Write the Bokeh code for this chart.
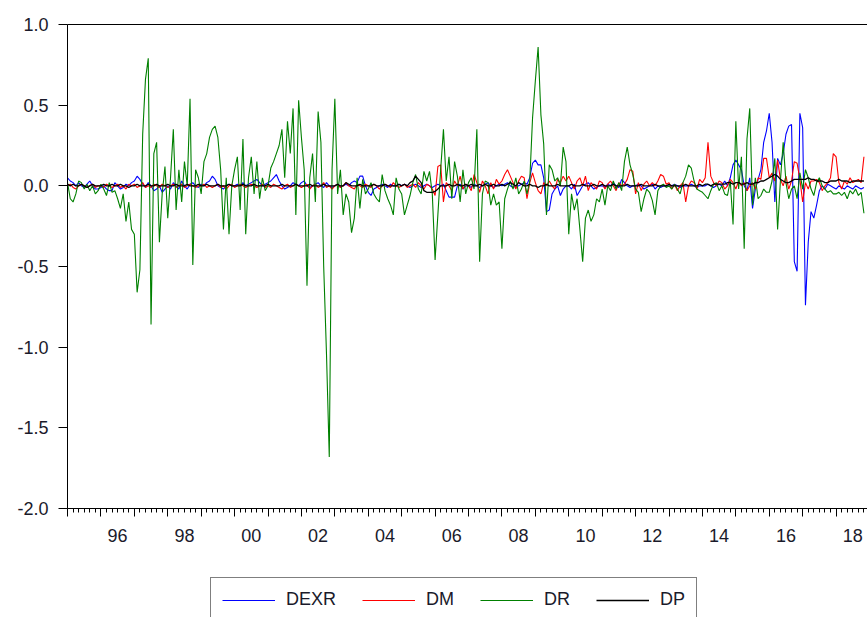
from bokeh.plotting import figure
from bokeh.layouts import column
from bokeh.models import (Range1d, FixedTicker, LinearAxis, Legend, LegendItem,
                          CustomJSTickFormatter, NumeralTickFormatter, ColumnDataSource)
from bokeh.embed import file_html
from bokeh.resources import INLINE

# ---------------- data (monthly, 1995M01 onward) ----------------
start_year = 1995

dexr = [
    0.05, 0.03, 0.02, 0.00, 0.02, 0.00, -0.01, 0.01, 0.03, 0.00, -0.02, -0.02,
    -0.01, 0.00, -0.02, -0.03, -0.03, 0.02, 0.00, -0.02, -0.01, 0.01, 0.00, 0.02,
    0.03, 0.06, 0.04, 0.01, -0.01, 0.02, 0.00, -0.03, -0.02, 0.00, -0.04, -0.02,
    0.00, -0.02, 0.02, 0.00, -0.02, 0.03, 0.00, -0.02, 0.01, 0.02, 0.00, -0.01,
    0.01, 0.00, 0.02, 0.03, 0.06, 0.04, 0.00, -0.01, -0.02, 0.00, 0.01, 0.00,
    0.00, 0.01, 0.00, 0.02, 0.00, 0.01, 0.02, 0.03, 0.04, 0.02, 0.00, 0.01,
    0.02, 0.03, 0.05, 0.07, 0.03, 0.00, -0.02, -0.01, 0.00, 0.02, 0.01, 0.00,
    0.02, 0.03, 0.00, -0.01, 0.00, 0.01, 0.02, 0.00, -0.01, 0.02, 0.00, -0.01,
    0.00, 0.01, -0.01, 0.00, 0.01, 0.00, 0.02, 0.03, 0.02, 0.06, 0.06, 0.00,
    -0.04, -0.06, -0.02, -0.01, 0.00, 0.01, 0.00, -0.01, 0.01, 0.00, 0.00, 0.01,
    0.00, 0.01, 0.00, -0.01, 0.00, 0.01, 0.00, -0.01, 0.00, 0.01, 0.00, -0.01,
    0.00, 0.01, 0.00, 0.01, -0.03, -0.07, -0.07, -0.07, 0.00, 0.01, -0.02, 0.00,
    0.00, -0.01, 0.01, 0.00, -0.01, 0.00, 0.01, 0.02, 0.00, -0.01, 0.00, 0.01,
    0.00, 0.01, 0.02, 0.00, -0.01, 0.00, 0.00, 0.01, 0.02, 0.01, 0.05, 0.14,
    0.16, 0.13, 0.13, 0.05, -0.16, -0.15, -0.05, -0.02, 0.00, -0.06, -0.02, 0.00,
    0.00, -0.02, 0.01, -0.06, -0.03, 0.00, 0.01, 0.02, 0.00, -0.02, -0.01, 0.00,
    0.00, -0.01, 0.01, 0.00, 0.02, 0.00, -0.01, 0.04, 0.02, 0.00, -0.01, 0.00,
    0.00, 0.01, 0.00, -0.02, -0.01, 0.00, 0.01, -0.02, 0.00, -0.01, 0.00, 0.00,
    0.00, 0.00, 0.01, 0.00, -0.01, 0.00, 0.00, 0.00, 0.01, 0.00, -0.01, 0.00,
    0.00, 0.00, 0.01, 0.00, -0.01, 0.00, 0.01, 0.00, 0.03, 0.00, 0.05, 0.13,
    0.16, 0.13, 0.10, 0.00, -0.03, 0.05, -0.14, -0.02, 0.04, 0.10, 0.27, 0.34,
    0.45, 0.27, -0.10, 0.17, 0.13, 0.20, 0.32, 0.37, 0.38, -0.47, -0.53, 0.45,
    0.36, -0.74, -0.35, -0.16, -0.20, -0.12, -0.03, 0.00, -0.02, 0.01, 0.00, -0.01,
    -0.02, 0.00, -0.01, -0.02, 0.00, -0.01, -0.02, 0.00, -0.01, -0.02, -0.01,
]

dm = [
    0.00, 0.01, -0.01, -0.02, 0.00, 0.01, 0.00, -0.01, 0.00, 0.01, -0.01, 0.00,
    0.00, -0.01, 0.01, 0.00, -0.01, 0.00, 0.01, -0.01, 0.00, -0.02, 0.01, 0.00,
    0.01, -0.01, 0.00, 0.02, -0.01, 0.00, -0.01, 0.01, 0.00, -0.01, 0.01, 0.00,
    -0.01, 0.00, 0.01, -0.01, 0.00, 0.01, -0.01, 0.00, 0.01, 0.00, -0.01, 0.00,
    0.00, 0.01, -0.01, 0.00, -0.01, 0.00, 0.01, -0.01, 0.00, -0.02, 0.00, 0.01,
    -0.01, 0.00, 0.01, 0.00, -0.01, 0.00, 0.01, 0.00, -0.01, 0.00, 0.01, -0.01,
    0.00, -0.01, 0.01, 0.00, -0.01, -0.02, 0.00, 0.01, -0.01, 0.00, 0.01, 0.00,
    -0.01, 0.00, 0.01, -0.02, 0.00, 0.01, -0.01, 0.00, 0.02, -0.01, 0.00, -0.02,
    0.00, 0.01, -0.01, 0.00, 0.02, 0.00, -0.01, -0.02, 0.01, 0.00, -0.01, 0.01,
    0.00, -0.01, 0.01, 0.00, -0.02, 0.00, 0.01, 0.00, -0.01, 0.02, 0.00, -0.01,
    0.00, 0.01, -0.01, 0.00, 0.01, -0.01, 0.02, 0.00, -0.02, 0.01, 0.00, -0.02,
    -0.06, 0.12, 0.13, -0.10, 0.02, 0.00, -0.03, 0.03, 0.00, 0.06, -0.02, 0.01,
    0.00, -0.03, 0.07, 0.02, -0.04, 0.03, 0.00, -0.05, 0.02, -0.02, 0.04, 0.01,
    0.03, 0.07, 0.10, 0.06, 0.02, -0.02, 0.03, 0.06, 0.05, -0.08, 0.02, 0.08,
    0.02, -0.03, -0.05, 0.02, 0.00, 0.03, 0.00, -0.02, 0.04, 0.02, 0.06, 0.03,
    0.06, 0.02, -0.02, 0.03, 0.05, 0.00, 0.06, -0.03, 0.02, 0.00, -0.02, 0.03,
    0.02, -0.02, 0.01, 0.03, 0.00, -0.03, 0.02, 0.00, 0.01, 0.04, 0.10, 0.09,
    -0.05, 0.02, -0.03, 0.01, 0.03, 0.00, 0.02, 0.00, 0.03, 0.07, 0.06, 0.01,
    0.02, -0.02, 0.01, -0.03, 0.00, 0.02, -0.10, 0.00, 0.03, 0.02, -0.02, 0.04,
    0.02, 0.05, 0.27, 0.06, 0.02, 0.00, 0.03, 0.02, -0.02, 0.00, 0.04, 0.02,
    -0.02, 0.03, 0.00, 0.02, -0.03, 0.00, 0.02, -0.02, 0.05, 0.04, 0.17, 0.17,
    0.05, 0.08, 0.03, 0.16, 0.04, 0.00, 0.06, -0.02, 0.03, 0.15, 0.14, 0.04,
    -0.10, 0.02, -0.02, 0.03, 0.03, 0.04, 0.02, -0.03, 0.00, 0.02, 0.05, 0.20,
    0.18, 0.02, -0.02, 0.03, 0.01, 0.05, 0.02, 0.03, 0.04, 0.02, 0.18,
]

dr = [
    0.02, -0.08, -0.10, -0.05, 0.03, 0.02, -0.02, 0.01, -0.03, 0.00, -0.05, -0.03,
    0.01, -0.02, -0.06, 0.02, -0.04, -0.03, -0.08, -0.14, -0.05, -0.22, -0.10, -0.27,
    -0.30, -0.66, -0.52, 0.32, 0.66, 0.79, -0.86, 0.20, 0.27, -0.35, -0.05, 0.12,
    -0.20, 0.05, 0.35, -0.15, 0.10, -0.10, 0.15, 0.00, 0.54, -0.49, 0.10, 0.05,
    -0.05, 0.15, 0.20, 0.30, 0.35, 0.37, 0.30, 0.10, -0.27, 0.05, -0.30, 0.00,
    0.10, 0.18, -0.15, 0.29, -0.30, 0.05, 0.18, -0.05, 0.15, -0.08, 0.05, -0.03,
    0.00, 0.11, 0.15, 0.20, 0.25, 0.35, 0.05, 0.40, 0.20, 0.48, -0.18, 0.53,
    0.30, 0.10, -0.62, 0.05, 0.20, -0.10, 0.46, 0.27, -0.50, -1.04, -1.68, 0.10,
    0.54, -0.05, 0.10, -0.18, -0.05, -0.10, -0.29, -0.20, 0.05, -0.14, 0.04, -0.05,
    -0.02, 0.02, -0.05, -0.08, -0.10, 0.07, -0.03, -0.08, -0.12, -0.18, 0.05, -0.02,
    -0.05, -0.18, -0.12, -0.06, 0.02, 0.07, -0.02, -0.05, 0.09, 0.03, 0.09, -0.05,
    -0.46, -0.18, 0.10, 0.35, 0.03, 0.18, -0.08, 0.15, 0.06, -0.10, 0.10, -0.05,
    0.02, 0.05, -0.02, 0.35, -0.47, -0.05, 0.03, 0.02, -0.12, -0.05, -0.12, -0.10,
    -0.39, -0.08, -0.02, 0.03, -0.02, 0.05, -0.05, -0.02, 0.03, -0.05, 0.03, 0.42,
    0.65, 0.86, 0.44, 0.26, -0.18, 0.13, 0.10, 0.03, 0.05, 0.00, 0.24, 0.15,
    -0.30, -0.05, -0.15, -0.08, -0.27, -0.47, -0.20, -0.15, -0.22, -0.18, -0.08, -0.10,
    -0.02, -0.12, 0.00, -0.03, 0.03, -0.02, 0.02, -0.03, 0.15, 0.24, 0.13, 0.07,
    -0.02, -0.04, -0.16, -0.08, -0.02, -0.04, -0.09, -0.18, -0.03, 0.00, 0.01, -0.01,
    0.00, -0.02, 0.01, -0.02, -0.05, 0.02, 0.06, 0.13, 0.11, 0.03, -0.02, -0.03,
    -0.04, -0.06, -0.08, -0.03, 0.01, 0.02, -0.03, 0.00, -0.05, -0.06, 0.03, -0.24,
    0.40, -0.02, 0.18, -0.39, 0.29, 0.48, -0.12, 0.05, -0.08, -0.06, -0.02, -0.04,
    -0.04, 0.03, 0.17, -0.27, 0.03, 0.27, 0.02, -0.08, -0.02, 0.00, -0.08, 0.08,
    -0.02, 0.10, 0.05, -0.02, -0.06, 0.02, 0.05, 0.00, -0.02, -0.04, -0.03, -0.05,
    -0.05, -0.04, -0.06, -0.04, -0.08, -0.03, -0.05, -0.02, -0.06, -0.04, -0.17,
]

dp = [
    0.01, 0.00, 0.01, 0.00, 0.00, 0.01, 0.00, -0.01, 0.00, 0.01, 0.00, 0.00,
    0.00, 0.01, 0.00, 0.00, 0.01, 0.00, 0.00, 0.01, 0.00, 0.00, -0.01, 0.00,
    0.00, 0.01, 0.00, 0.00, 0.00, 0.01, 0.00, 0.00, 0.01, 0.00, 0.00, 0.00,
    0.01, 0.00, 0.00, 0.01, 0.00, 0.00, 0.00, 0.01, 0.00, 0.00, 0.00, 0.01,
    0.00, 0.00, 0.01, 0.00, 0.00, 0.00, 0.01, 0.00, 0.00, 0.00, 0.01, 0.00,
    0.00, 0.00, 0.00, 0.01, 0.00, 0.00, 0.00, 0.01, 0.00, 0.00, 0.00, 0.00,
    0.01, 0.00, 0.00, 0.00, 0.00, 0.01, 0.00, 0.00, 0.00, 0.00, 0.01, 0.00,
    0.00, 0.00, 0.00, 0.01, 0.00, 0.00, 0.00, 0.00, 0.01, 0.00, 0.00, 0.00,
    0.00, 0.01, 0.00, 0.00, 0.02, 0.01, 0.00, 0.00, 0.00, 0.01, 0.00, 0.00,
    0.00, 0.00, 0.01, 0.00, 0.00, 0.00, 0.01, 0.00, 0.00, 0.00, 0.00, 0.01,
    0.00, 0.01, 0.00, 0.02, 0.03, 0.06, 0.04, 0.02, -0.03, -0.04, -0.04, -0.04,
    -0.035, -0.02, 0.00, 0.00, 0.00, 0.01, 0.00, 0.00, 0.01, 0.00, 0.00, 0.01,
    0.00, 0.01, 0.00, 0.00, 0.01, 0.00, 0.01, 0.00, 0.00, 0.01, 0.00, 0.00,
    0.01, 0.00, 0.01, 0.02, 0.01, 0.00, 0.02, 0.01, 0.00, 0.00, 0.01, 0.00,
    0.00, -0.01, 0.00, 0.00, 0.01, 0.00, 0.00, 0.00, 0.01, 0.00, 0.00, 0.00,
    0.00, 0.01, 0.00, 0.00, 0.00, 0.01, 0.00, 0.00, 0.00, 0.01, 0.00, 0.00,
    0.01, 0.00, 0.00, 0.00, 0.01, 0.00, 0.00, 0.00, 0.00, 0.01, 0.00, 0.00,
    0.00, 0.00, 0.01, 0.00, 0.00, 0.00, 0.00, 0.01, 0.00, 0.00, 0.00, 0.00,
    0.01, 0.00, 0.00, 0.00, 0.00, 0.00, 0.01, 0.00, 0.00, 0.00, 0.00, 0.01,
    0.00, 0.01, 0.01, 0.00, 0.01, 0.01, 0.01, 0.01, 0.01, 0.02, 0.02, 0.01,
    0.02, 0.02, 0.01, 0.01, 0.02, 0.01, 0.01, 0.02, 0.02, 0.03, 0.03, 0.04,
    0.05, 0.06, 0.07, 0.06, 0.04, 0.03, 0.02, 0.02, 0.03, 0.04, 0.04, 0.04,
    0.04, 0.04, 0.05, 0.04, 0.04, 0.03, 0.03, 0.03, 0.02, 0.02, 0.03, 0.03,
    0.03, 0.04, 0.03, 0.03, 0.03, 0.02, 0.03, 0.03, 0.03, 0.03, 0.03,
]

series_names = ["DEXR", "DM", "DR", "DP"]
series_colors = ["#0000ff", "#ff0000", "#008000", "#000000"]

y_ticks = [-2.0, -1.5, -1.0, -0.5, 0.0, 0.5, 1.0]
label_years = [1996, 1998, 2000, 2002, 2004, 2006, 2008, 2010, 2012, 2014, 2016, 2018]
x_tick_labels = ["96", "98", "00", "02", "04", "06", "08", "10", "12", "14", "16", "18"]

# ---------------- build ----------------
n = len(dr)
assert len(dexr) == n and len(dm) == n and len(dp) == n
t = [start_year + i / 12.0 for i in range(n)]
src = ColumnDataSource(dict(t=t, DEXR=dexr, DM=dm, DR=dr, DP=dp))

FONT = "Liberation Sans"
TXT = "#1a1a2a"

p = figure(width=867, height=577, output_backend="svg", toolbar_location=None,
           x_range=Range1d(1995.0, 2018.94), y_range=Range1d(-2.0, 1.0),
           x_axis_type=None, y_axis_type=None,
           min_border_left=67, min_border_right=0, min_border_top=24, min_border_bottom=69)
p.outline_line_color = None
p.background_fill_color = "white"
p.border_fill_color = "white"

# left axis
yax = LinearAxis(ticker=FixedTicker(ticks=y_ticks, minor_ticks=[]),
                 formatter=NumeralTickFormatter(format="0.0"))
yax.major_tick_in = 0
yax.major_tick_out = 9
yax.minor_tick_line_color = None
yax.axis_line_color = "black"
yax.major_tick_line_color = "black"
yax.major_label_text_font = FONT
yax.major_label_text_font_size = "18px"
yax.major_label_text_color = TXT
yax.major_label_standoff = 10
p.add_layout(yax, "left")

# top border line
top = LinearAxis(ticker=FixedTicker(ticks=[], minor_ticks=[]))
top.major_tick_out = 0
top.major_tick_in = 0
top.major_label_standoff = 0
top.axis_line_color = "black"
p.add_layout(top, "above")

# bottom axis: ticks only
year_starts = list(range(1995, 2019))
minor = [start_year + k / 6.0 for k in range(0, 6 * 24 + 1) if k % 6 != 0]
xax = LinearAxis(ticker=FixedTicker(ticks=year_starts, minor_ticks=minor),
                 formatter=CustomJSTickFormatter(code='return "";'))
xax.major_tick_in = 0
xax.major_tick_out = 8
xax.minor_tick_in = 0
xax.minor_tick_out = 4
xax.major_label_standoff = 0
xax.axis_line_color = "black"
xax.major_tick_line_color = "black"
xax.minor_tick_line_color = "black"
p.add_layout(xax, "below")

# bottom axis: labels (mid-year positions)
xlab = LinearAxis(ticker=FixedTicker(ticks=[y + 0.5 for y in label_years], minor_ticks=[]),
                  formatter=CustomJSTickFormatter(args=dict(years=label_years, labels=x_tick_labels), code="""
                      const k = years.indexOf(Math.round(tick - 0.5));
                      return k >= 0 ? labels[k] : "";
                  """))
xlab.axis_line_color = None
xlab.major_tick_line_color = None
xlab.minor_tick_line_color = None
xlab.major_tick_out = 0
xlab.major_tick_in = 0
xlab.major_label_standoff = 12
xlab.major_label_text_font = FONT
xlab.major_label_text_font_size = "18px"
xlab.major_label_text_color = TXT
p.add_layout(xlab, "below")

for name, col in zip(series_names, series_colors):
    lw = 1.3 if name == "DP" else 1.1
    p.line("t", name, source=src, line_color=col, line_width=lw)

# ---------------- legend strip (second figure, below) ----------------
q = figure(width=867, height=40, output_backend="svg", toolbar_location=None,
           x_range=Range1d(0, 1), y_range=Range1d(100, 101),
           x_axis_type=None, y_axis_type=None,
           min_border_left=0, min_border_right=0, min_border_top=0, min_border_bottom=0)
q.outline_line_color = None
q.background_fill_color = "white"
q.border_fill_color = "white"
leg_renderers = []
for name, col in zip(series_names, series_colors):
    lw = 1.3 if name == "DP" else 1.1
    leg_renderers.append(q.line("t", name, source=src, line_color=col, line_width=lw))

legend = Legend(items=[LegendItem(label=nm, renderers=[r]) for nm, r in zip(series_names, leg_renderers)],
                orientation="horizontal", location=(143, -5))
legend.border_line_color = "black"
legend.border_line_width = 1
legend.background_fill_color = "white"
legend.background_fill_alpha = 1.0
legend.glyph_width = 53
legend.glyph_height = 20
legend.label_height = 20
legend.label_standoff = 11
legend.spacing = 26
legend.padding = 11
legend.margin = 0
legend.label_text_font = FONT
legend.label_text_font_size = "18px"
legend.label_text_color = TXT
q.add_layout(legend, "center")

layout = column(p, q, spacing=0)
open("out.html", "w").write(file_html(layout, INLINE))
